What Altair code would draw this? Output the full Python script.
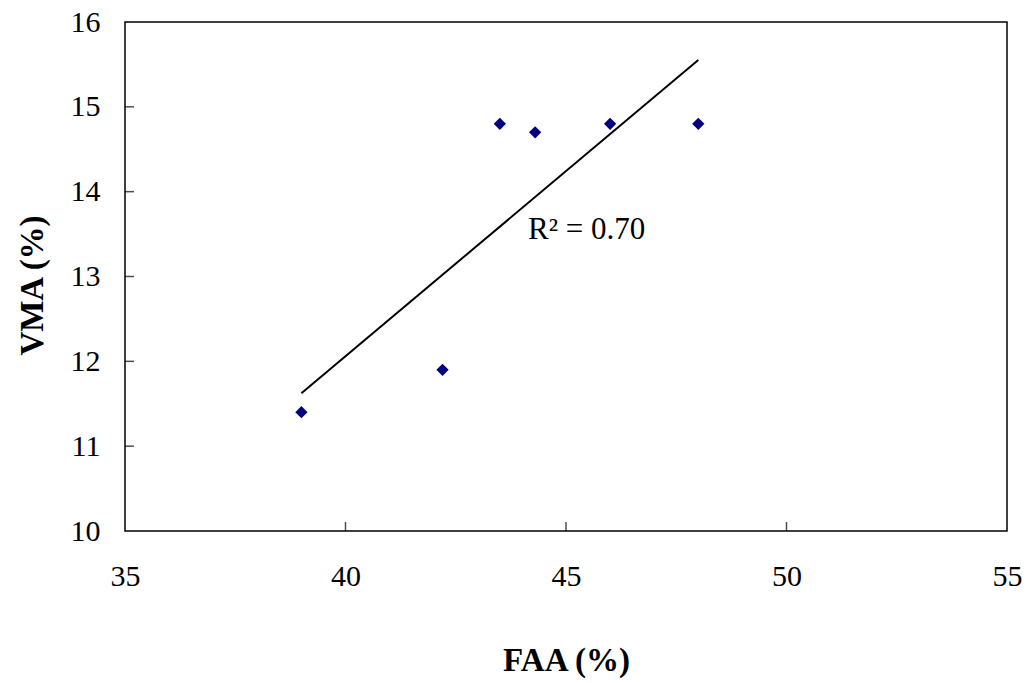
import altair as alt
import pandas as pd

# Data
faa = [39.0, 42.2, 43.5, 44.3, 46.0, 48.0]
vma = [11.4, 11.9, 14.8, 14.7, 14.8, 14.8]
x_ticks = [35, 40, 45, 50, 55]
y_ticks = [10, 11, 12, 13, 14, 15, 16]
inner_x_ticks = [40, 45, 50]
inner_y_ticks = [11, 12, 13, 14, 15]
label_text = ["R² = 0.70"]
label_x = [44.14]
label_y = [13.44]

FONT = "Liberation Serif"
FS = 30
TFS = 33

df = pd.DataFrame({"FAA": faa, "VMA": vma})
xt = pd.DataFrame({"v": inner_x_ticks})
yt = pd.DataFrame({"v": inner_y_ticks})
lab = pd.DataFrame({"t": label_text, "x": label_x, "y": label_y})

xs = alt.Scale(domain=[35, 55], nice=False, zero=False)
ys = alt.Scale(domain=[10, 16], nice=False, zero=False)

xaxis = alt.Axis(values=x_ticks, grid=False, ticks=False, domain=False,
                 labelFont=FONT, labelFontSize=FS, labelColor="black",
                 labelPadding=30, labelFlush=False, labelOverlap=False,
                 title="FAA (%)", titleFont=FONT, titleFontSize=TFS,
                 titleFontWeight="bold", titleColor="black",
                 titleX=441, titleY=129, titleBaseline="middle", titleAlign="center")
yaxis = alt.Axis(values=y_ticks, grid=False, ticks=False, domain=False,
                 labelFont=FONT, labelFontSize=FS, labelColor="black",
                 labelPadding=25, labelFlush=False, labelOverlap=False,
                 title="VMA (%)", titleFont=FONT, titleFontSize=TFS,
                 titleFontWeight="bold", titleColor="black",
                 titleX=-93, titleY=263, titleBaseline="middle", titleAlign="center",
                 titleAngle=270)

points = alt.Chart(df).mark_point(shape="diamond", filled=True, size=150,
                                  color="#000080", opacity=1).encode(
    x=alt.X("FAA:Q", scale=xs, axis=xaxis, title="FAA (%)"),
    y=alt.Y("VMA:Q", scale=ys, axis=yaxis, title="VMA (%)"),
)

trend = alt.Chart(df).transform_regression("FAA", "VMA").mark_line(
    color="black", strokeWidth=2).encode(
    x=alt.X("FAA:Q", scale=xs, axis=xaxis, title="FAA (%)"),
    y=alt.Y("VMA:Q", scale=ys, axis=yaxis, title="VMA (%)"),
)

xtick_layer = alt.Chart(xt).mark_tick(orient="vertical", size=9, thickness=1.5,
                                      yOffset=-4.5, color="black").encode(
    x=alt.X("v:Q", scale=xs, axis=xaxis, title="FAA (%)"),
    y=alt.datum(10, scale=ys, axis=yaxis, title="VMA (%)"),
)

ytick_layer = alt.Chart(yt).mark_tick(orient="horizontal", size=9, thickness=1.5,
                                      xOffset=4.5, color="black").encode(
    y=alt.Y("v:Q", scale=ys, axis=yaxis, title="VMA (%)"),
    x=alt.datum(35, scale=xs, axis=xaxis, title="FAA (%)"),
)

text = alt.Chart(lab).mark_text(align="left", baseline="alphabetic", font=FONT,
                                fontSize=31, color="black").encode(
    x=alt.X("x:Q", scale=xs, axis=xaxis, title="FAA (%)"),
    y=alt.Y("y:Q", scale=ys, axis=yaxis, title="VMA (%)"),
    text="t:N",
)

chart = alt.layer(points, trend, xtick_layer, ytick_layer, text).properties(
    width=882, height=509,
    autosize=alt.AutoSizeParams(type="none"),
    padding={"left": 125, "top": 22, "right": 19, "bottom": 152},
    background="white",
).configure_view(stroke="black", strokeWidth=1.5)

chart.save("out.html", embed_options={"renderer": "svg", "actions": False})
